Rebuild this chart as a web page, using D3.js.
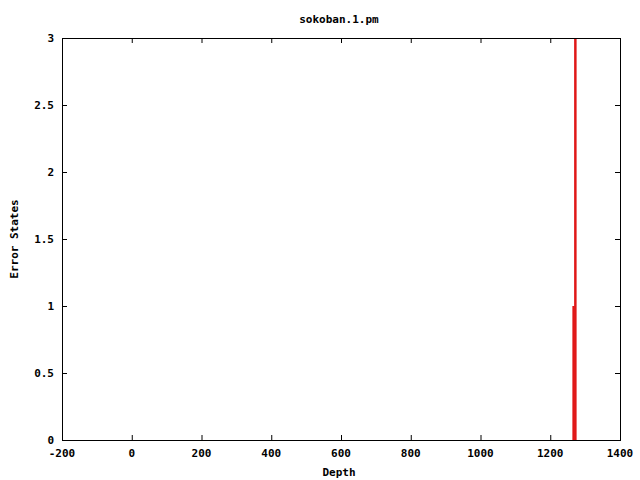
<!DOCTYPE html>
<html><head><meta charset="utf-8">
<script src="https://cdn.jsdelivr.net/npm/d3@7"></script>
<style>body{margin:0;background:#fff}svg{display:block}text{font-family:"DejaVu Sans Mono","Liberation Mono",monospace;font-weight:bold;font-size:11px;fill:#000}</style>
</head><body>
<svg id="c" width="640" height="480"></svg>
<script>
const title = "sokoban.1.pm";
const xLabel = "Depth";
const yLabel = "Error States";
const depths = [1267, 1272];
const errorStates = [1, 3];
const xTicks = [-200, 0, 200, 400, 600, 800, 1000, 1200, 1400];
const yTicks = [0, 0.5, 1, 1.5, 2, 2.5, 3];

const svg = d3.select("#c");
const L = 62, R = 620, T = 38, B = 440;
const x = d3.scaleLinear().domain([-200, 1400]).range([L, R]);
const y = d3.scaleLinear().domain([0, 3]).range([B, T]);
svg.append("rect").attr("width",640).attr("height",480).attr("fill","#fff");

// impulses
svg.append("g").selectAll("line").data(depths).join("line")
  .attr("x1", d => x(d)).attr("x2", d => x(d))
  .attr("y1", y(0)).attr("y2", (d,i) => y(errorStates[i]))
  .attr("stroke", "#e01818").attr("stroke-width", 2.5);

// axes with inward ticks
const ax = (g, axis) => { g.call(axis); g.select(".domain").remove(); g.selectAll("line").attr("stroke","#000"); };
const tb = svg.append("g").attr("transform",`translate(0,${B})`);
ax(tb, d3.axisTop(x).tickValues(xTicks).tickSize(5).tickFormat(""));
tb.selectAll(".tick").filter(d => d===-200 || d===1400).remove();
const tt = svg.append("g").attr("transform",`translate(0,${T})`);
ax(tt, d3.axisBottom(x).tickValues(xTicks).tickSize(5).tickFormat(""));
tt.selectAll(".tick").filter(d => d===-200 || d===1400).remove();
const tl = svg.append("g").attr("transform",`translate(${L},0)`);
ax(tl, d3.axisRight(y).tickValues(yTicks).tickSize(5).tickFormat(""));
tl.selectAll(".tick").filter(d => d===0 || d===3).remove();
const tr = svg.append("g").attr("transform",`translate(${R},0)`);
ax(tr, d3.axisLeft(y).tickValues(yTicks).tickSize(5).tickFormat(""));
tr.selectAll(".tick").filter(d => d===0 || d===3).remove();

// labels
svg.append("g").selectAll("text").data(xTicks).join("text")
  .attr("x", d => x(d)).attr("y", B + 17).attr("text-anchor","middle").text(d => d);
svg.append("g").selectAll("text").data(yTicks).join("text")
  .attr("x", L - 8).attr("y", d => y(d) + 4).attr("text-anchor","end").text(d => d);

svg.append("rect").attr("x",L).attr("y",T).attr("width",R-L).attr("height",B-T)
  .attr("fill","none").attr("stroke","#000").attr("stroke-width",1).attr("shape-rendering","crispEdges");

svg.append("text").attr("x",339).attr("y",23).attr("text-anchor","middle").text(title);
svg.append("text").attr("x",339).attr("y",476).attr("text-anchor","middle").text(xLabel);
svg.append("text").attr("transform","translate(18,239) rotate(-90)").attr("text-anchor","middle").text(yLabel);
</script>
</body></html>
